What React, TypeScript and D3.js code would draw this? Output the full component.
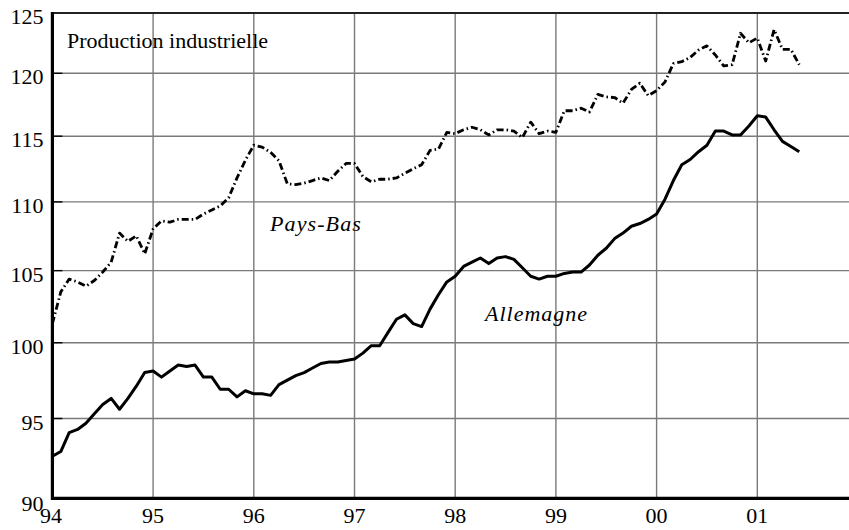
import React from "react";
import * as d3 from "d3";

const START_YEAR = 1994;
const allemagne = [
  92.6, 92.9, 94.1, 94.3, 94.7, 95.3, 95.9, 96.3, 95.6, 96.3, 97.1, 98.0,
  98.1, 97.7, 98.1, 98.5, 98.4, 98.5, 97.7, 97.7, 96.9, 96.9, 96.4, 96.8,
  96.6, 96.6, 96.5, 97.2, 97.5, 97.8, 98.0, 98.3, 98.6, 98.7, 98.7, 98.8,
  98.9, 99.3, 99.8, 99.8, 100.7, 101.6, 101.9, 101.3, 101.1, 102.3, 103.3, 104.2,
  104.6, 105.3, 105.6, 105.9, 105.5, 105.9, 106.0, 105.8, 105.2, 104.6, 104.4, 104.6,
  104.6, 104.8, 104.9, 104.9, 105.4, 106.1, 106.6, 107.3, 107.7, 108.2, 108.4, 108.7,
  109.1, 110.2, 111.6, 112.8, 113.2, 113.8, 114.3, 115.4, 115.4, 115.1, 115.1, 115.8,
  116.6, 116.5, 115.5, 114.6, 114.2, 113.8,
];
const paysBas = [
  101.3, 103.5, 104.4, 104.2, 103.9, 104.3, 104.9, 105.6, 107.7, 107.1, 107.5, 106.2,
  108.0, 108.6, 108.5, 108.7, 108.7, 108.7, 109.1, 109.4, 109.7, 110.3, 111.8, 113.15,
  114.3, 114.15, 113.75, 113.1, 111.35, 111.3, 111.4, 111.6, 111.8, 111.6, 112.3, 112.9,
  112.9, 111.9, 111.5, 111.7, 111.7, 111.8, 112.15, 112.5, 112.8, 113.9, 114.0, 115.3,
  115.2, 115.5, 115.7, 115.5, 115.1, 115.5, 115.5, 115.4, 114.9, 116.1, 115.2, 115.4,
  115.3, 117.0, 117.0, 117.2, 116.9, 118.3, 118.1, 118.05, 117.6, 118.7, 119.2, 118.2,
  118.6, 119.3, 120.8, 120.95, 121.3, 121.9, 122.25, 121.5, 120.6, 120.7, 123.3, 122.5,
  122.9, 121.0, 123.6, 121.96, 121.96, 120.7,
];
const yTicks = [90, 95, 100, 105, 110, 115, 120, 125];
const xTicks = [1994, 1995, 1996, 1997, 1998, 1999, 2000, 2001];
const xTickLabels = ["94", "95", "96", "97", "98", "99", "00", "01"];
const title = "Production industrielle";
const seriesLabels = ["Pays-Bas", "Allemagne"];

const W = 849;
const H = 530;
const FONT = "'Liberation Serif', 'Times New Roman', serif";

export default function App() {
  const x = d3.scaleLinear().domain([1994, 2002]).range([52.4, 52.4 + 8 * 100.7]);
  const y = d3.scaleLog().domain([90, 125]).range([498.4, 13]);
  const xLeft = x(1994);
  const xRight = W;
  const yBottom = y(90);
  const yTop = y(125);

  const line = d3
    .line<number>()
    .x((_, i) => x(START_YEAR + i / 12))
    .y((d) => y(d));

  return (
    <svg
      width={W}
      height={H}
      style={{ position: "absolute", left: 0, top: 0, background: "#fff" }}
      fontFamily={FONT}
    >
      <rect x={0} y={0} width={W} height={H} fill="#fff" />
      {/* grid */}
      {yTicks.slice(1, -1).map((t) => (
        <line key={"gy" + t} x1={xLeft} x2={xRight} y1={y(t)} y2={y(t)} stroke="#7a7a7a" strokeWidth={1.4} />
      ))}
      {xTicks.slice(1).map((t) => (
        <line key={"gx" + t} x1={x(t)} x2={x(t)} y1={yTop} y2={yBottom} stroke="#7a7a7a" strokeWidth={1.4} />
      ))}
      {/* y tick marks */}
      {yTicks.slice(1, -1).map((t) => (
        <line key={"ty" + t} x1={xLeft} x2={xLeft + 10} y1={y(t)} y2={y(t)} stroke="#000" strokeWidth={1.4} />
      ))}
      {/* frame */}
      <line x1={xLeft} x2={xRight} y1={yTop} y2={yTop} stroke="#222" strokeWidth={2} />
      <line x1={xLeft} x2={xRight} y1={yBottom} y2={yBottom} stroke="#000" strokeWidth={3.2} />
      <line x1={xLeft} x2={xLeft} y1={yTop - 1} y2={yBottom + 1.5} stroke="#000" strokeWidth={3.2} />

      {/* series */}
      <path d={line(paysBas) || ""} fill="none" stroke="#000" strokeWidth={2.8} strokeDasharray="7 3 1.5 3" strokeLinejoin="round" />
      <path d={line(allemagne) || ""} fill="none" stroke="#000" strokeWidth={3} strokeLinejoin="round" />

      {/* y labels */}
      {yTicks.map((t) => (
        <text key={"ly" + t} x={43.5} y={y(t) + (t === 90 ? 13 : 11)} textAnchor="end" fontSize={22} fill="#000">
          {t}
        </text>
      ))}
      {/* x labels */}
      {xTicks.map((t, i) => (
        <text key={"lx" + t} x={x(t) - (i === 0 ? 1.5 : 0)} y={523} textAnchor="middle" fontSize={22} fill="#000">
          {xTickLabels[i]}
        </text>
      ))}

      <text x={67} y={48} fontSize={22} fill="#000">{title}</text>
      <text x={270} y={231} fontSize={22} fontStyle="italic" letterSpacing={1.1} fill="#000">{seriesLabels[0]}</text>
      <text x={485} y={321} fontSize={22} fontStyle="italic" letterSpacing={1} fill="#000">{seriesLabels[1]}</text>
    </svg>
  );
}
